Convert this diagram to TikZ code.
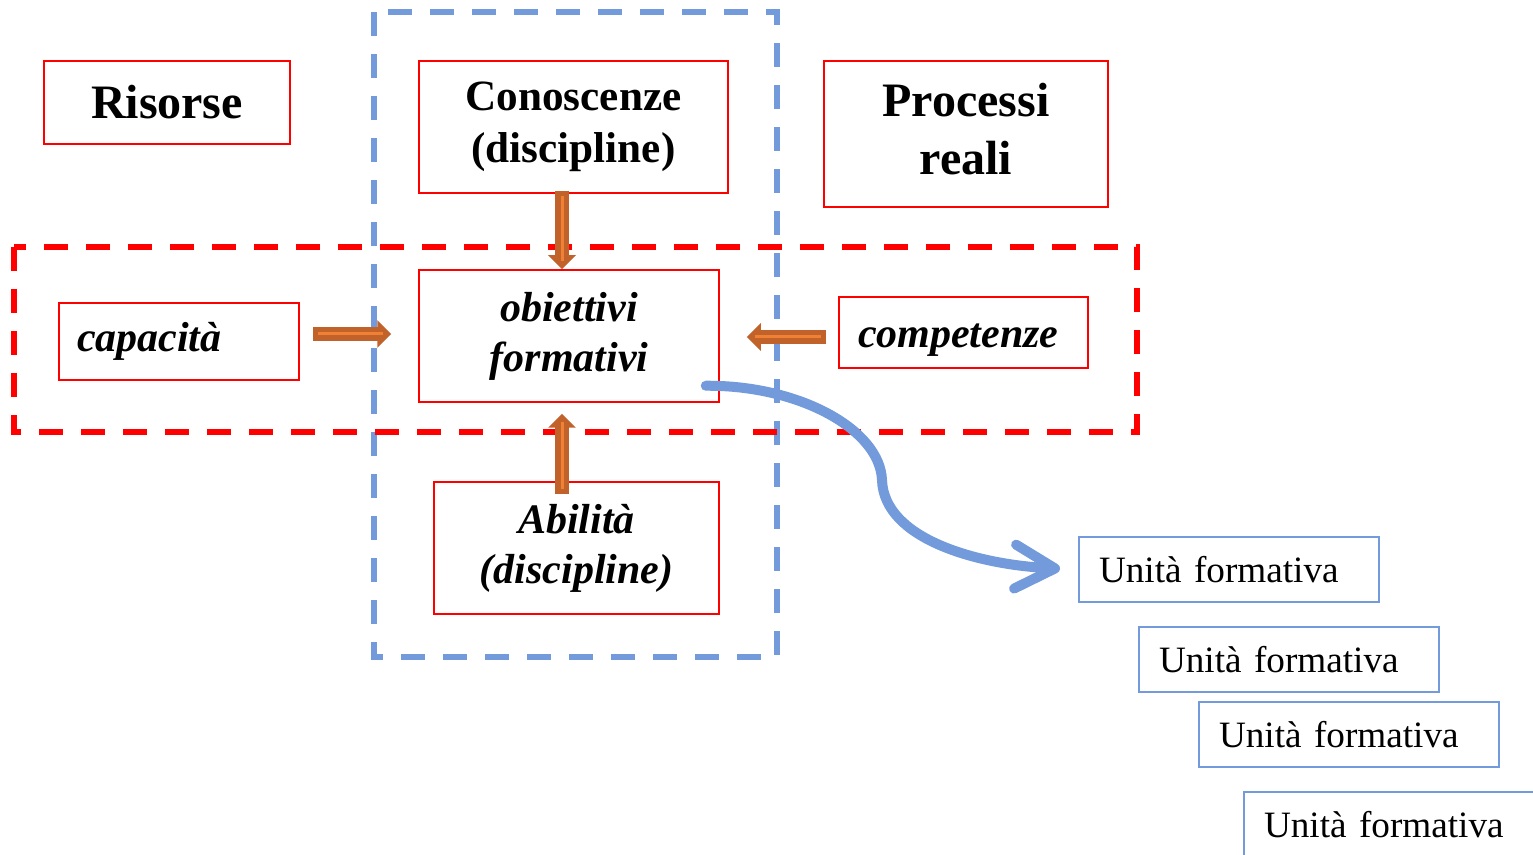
\documentclass[tikz,border=0pt]{standalone}
\usepackage{fontspec}
\setmainfont{Liberation Serif}
\usetikzlibrary{arrows.meta,positioning,calc}
\definecolor{boxred}{RGB}{255,0,0}
\definecolor{lineblue}{RGB}{115,154,219}
\definecolor{arrbrown}{RGB}{193,98,43}
\definecolor{arrlight}{RGB}{240,128,52}
\newcommand{\bigbf}{\bfseries\fontsize{24}{29}\selectfont}
\newcommand{\midbi}{\bfseries\itshape\fontsize{21}{25}\selectfont}

\begin{document}
\begin{tikzpicture}[x=0.5pt, y=-0.5pt,
  box/.style={draw=boxred, line width=0.75pt, inner sep=0pt, align=center},
  ubox/.style={draw=lineblue, line width=1pt, minimum height=32.5pt, inner xsep=10pt, text width=130pt, align=left, font=\fontsize{18.6}{22}\selectfont},
  frame/.style={line width=3pt, dash pattern=on 12pt off 9pt},
  fat/.style={line width=7pt, arrbrown, -{Triangle[length=7pt, width=13.5pt]}},
  stripe/.style={line width=1.5pt, arrlight, shorten <=2.5pt, shorten >=4pt}]
        \useasboundingbox (0,0) rectangle (1533,855);
        \clip (0,0) rectangle (1533,855);

        % dashed frames
        \draw[frame, lineblue] (374,12) rectangle (777,657);
        \draw[frame, boxred] (14,247) rectangle (1137,432);

        \node[box, minimum width=123pt, minimum height=41.5pt, font=\bigbf] (ris) at (167,102.5) {Risorse};
        \node[box, minimum width=154.5pt, minimum height=66pt, font=\bfseries\fontsize{21.6}{26}\selectfont] (cono) at (573.5,127) {Conoscenze\\(discipline)};
        \node[box, minimum width=142pt, minimum height=73pt, text depth=5pt, font=\bigbf] (proc) at (966,134) {Processi\\reali};

        \node[box, minimum height=38.5pt, inner xsep=9pt, text width=102pt, align=left, font=\midbi] (cap) at (179,341.5) {capacità};
        \node[box, minimum width=150pt, minimum height=66pt, font=\midbi] (obj) at (569,336) {obiettivi\\formativi};
        \node[box, minimum height=35.5pt, inner xsep=9.5pt, text width=105.5pt, align=left, text height=15.5pt, text depth=0pt, font=\midbi] (comp) at (963.5,332.5) {competenze};
        \node[box, minimum width=142.5pt, minimum height=66pt, font=\midbi] (abil) at (576.5,548) {Abilità\\(discipline)};

        \node[ubox] (u1) at (1229,569.5) {Unità formativa};
        \node[ubox] (u2) at (1289,659.5) {Unità formativa};
        \node[ubox] (u3) at (1349,734.5) {Unità formativa};
        \node[ubox] (u4) at (1394,824.5) {Unità formativa};

        % orange block arrows
        \coordinate (a1s) at ($(cap.east)+(13,-7.5)$);
        \coordinate (a1e) at ($(obj.west)+(-27,-2)$);
        \coordinate (a2s) at ($(comp.west)+(-12,4.5)$);
        \coordinate (a2e) at ($(obj.east)+(27,1)$);
        \coordinate (a3s) at ($(cono.south)+(-11.5,-3)$);
        \coordinate (a3e) at ($(obj.north)+(-7,0)$);
        \coordinate (a4s) at ($(abil.north)+(-14.5,13)$);
        \coordinate (a4e) at ($(obj.south)+(-7,11)$);
        \foreach \n in {1,...,4} {
          \draw[fat] (a\n s) -- (a\n e);
          \draw[stripe] (a\n s) -- (a\n e);
        }

        % blue curved arrow
        \draw[lineblue, line width=5pt, line cap=round, shorten >=9pt,
          -{Straight Barb[length=20pt, width=22pt, round]}]
          ($(obj.south east)+(-14,-17)$) .. controls (800,385) and (880,430) .. (882,480)
          .. controls (884,540) and (980,565) .. (u1.west);
\end{tikzpicture}
\end{document}
